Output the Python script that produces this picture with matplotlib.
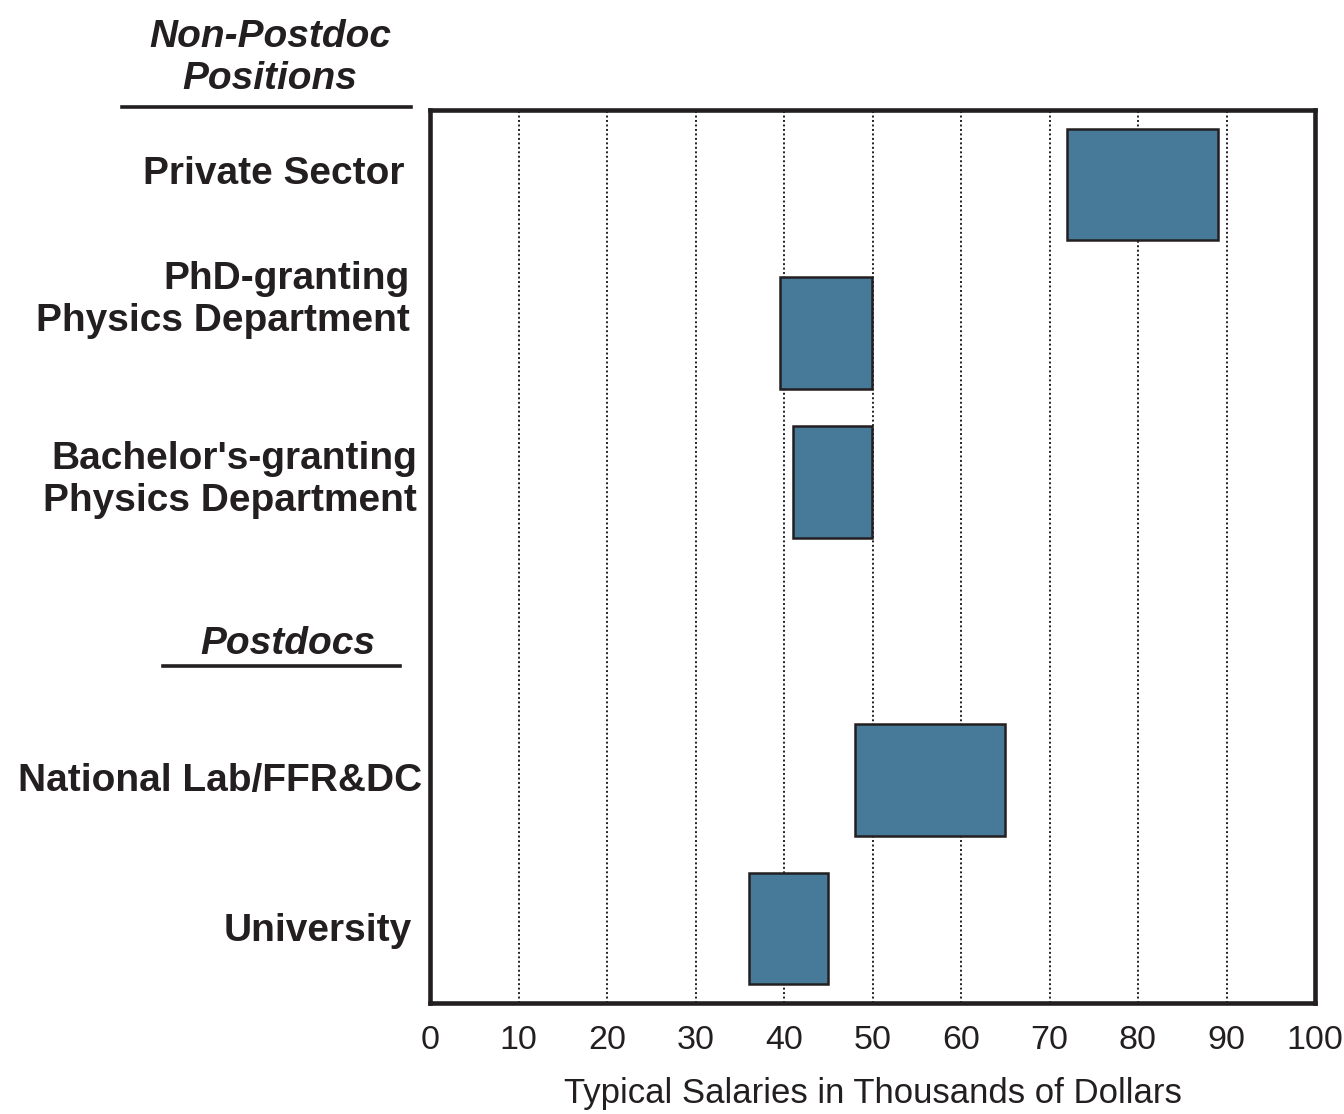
import matplotlib.pyplot as plt
import matplotlib.transforms as mtransforms
from matplotlib.lines import Line2D

plt.rcParams['font.family'] = ['Liberation Sans', 'DejaVu Sans']

# salary ranges (thousands of dollars)
labels = ['Private Sector', 'PhD-granting\nPhysics Department',
          "Bachelor's-granting\nPhysics Department",
          'National Lab/FFR&DC', 'University']
rows = [0, 1, 2, 4, 5]
low = [72, 39.5, 41, 48, 36]
high = [89, 50, 50, 65, 45]
xticks = [0, 10, 20, 30, 40, 50, 60, 70, 80, 90, 100]

# label nudges in pixels (right, down) to follow the original layout
lab_dx = [-5, 0, 7, 12, 2]
lab_dy = [-10, -33, -2, 1, 2.5]

ink = '#231F20'
barcol = '#477A99'

fig = plt.figure(figsize=(13.44, 11.14), dpi=100)
ax = fig.add_axes([430/1344, 1 - 1003/1114, 885/1344, 893/1114])

width = [h - l for l, h in zip(low, high)]
ax.barh(rows, width, left=low, height=0.75, color=barcol,
        edgecolor=ink, linewidth=1.8, zorder=3)

ax.set_xlim(0, 100)
ax.set_ylim(5.5, -0.5)
ax.set_xticks(xticks)
ax.set_xticklabels([str(t) for t in xticks], fontsize=24.5, color=ink)
ax.set_yticks([])
ax.tick_params(axis='x', length=0, pad=16)
ax.set_xlabel('Typical Salaries in Thousands of Dollars', fontsize=25,
              color=ink, labelpad=15)

for lab, r, dx, dy in zip(labels, rows, lab_dx, lab_dy):
    off = mtransforms.ScaledTranslation(dx / 100, -dy / 100, fig.dpi_scale_trans)
    ax.text(-20/885, r, lab, transform=ax.get_yaxis_transform() + off,
            ha='right', va='center', fontsize=28, fontweight='bold',
            color=ink, linespacing=1.2)

for x in xticks[1:-1]:
    ax.axvline(x, color=ink, linestyle=(0, (1, 1.3)), linewidth=1.4, zorder=1)

for s in ax.spines.values():
    s.set_linewidth(3.3)
    s.set_color(ink)

# group headings
fig.text(270/1344, 1 - 58/1114, 'Non-Postdoc\nPositions', fontsize=28,
         fontweight='bold', fontstyle='italic', color=ink,
         ha='center', va='center', linespacing=1.18)
fig.add_artist(Line2D([122/1344, 411/1344], [1 - 107/1114, 1 - 107/1114],
                      color=ink, linewidth=2.6))
fig.text(288/1344, 1 - 644/1114, 'Postdocs', fontsize=28,
         fontweight='bold', fontstyle='italic', color=ink,
         ha='center', va='center')
fig.add_artist(Line2D([163/1344, 400/1344], [1 - 666/1114, 1 - 666/1114],
                      color=ink, linewidth=2.6))

fig.savefig('out.png', dpi=100)
